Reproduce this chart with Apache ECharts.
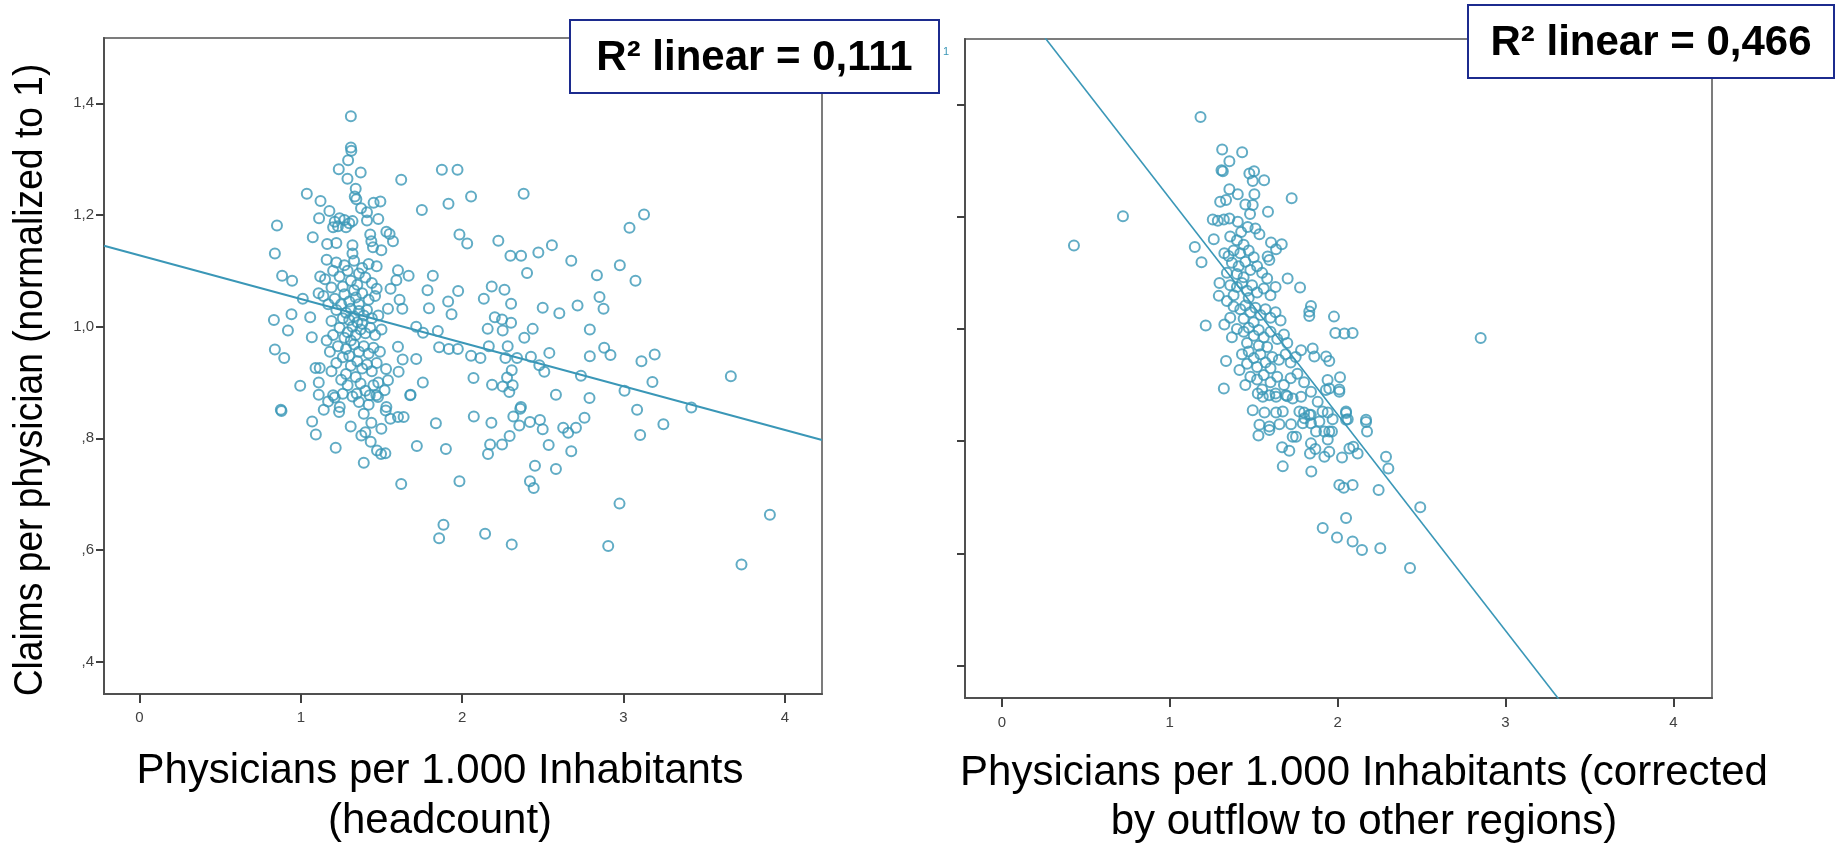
<!DOCTYPE html>
<html>
<head>
<meta charset="utf-8">
<title>Claims per physician</title>
<script src="https://cdn.jsdelivr.net/npm/echarts@6.0.0/dist/echarts.min.js"></script>
<style>
  html, body { margin: 0; padding: 0; background: #fff; }
  #chart { width: 1837px; height: 845px; }
</style>
</head>
<body>
<div id="chart"></div>
<script>
// x: physicians per 1.000 inhabitants, y: claims per physician (normalized to 1)
const headcountPoints = [
  // upper tail
  [1.31,1.377],[1.31,1.321],[1.313,1.315],[1.293,1.298],[1.235,1.282],[1.371,1.276],[1.289,1.265],[1.622,1.263],
  [1.874,1.281],[1.971,1.281],[2.381,1.238],[1.037,1.238],[1.122,1.225],[1.34,1.247],[1.334,1.233],[1.344,1.228],
  [1.373,1.212],[1.451,1.222],[1.493,1.224],[1.41,1.205],[1.177,1.207],[1.75,1.209],[1.915,1.22],[2.055,1.233],
  [1.48,1.193],[0.852,1.181],[1.113,1.194],[1.21,1.188],[1.24,1.194],[1.27,1.191],[1.3,1.185],[1.23,1.18],
  [1.28,1.178],[1.32,1.189],[1.2,1.178],[1.41,1.19],[1.43,1.165],
  [0.839,1.131],[1.074,1.16],[1.163,1.148],[1.22,1.15],[1.32,1.146],[1.32,1.131],[1.437,1.153],[1.447,1.142],
  [1.499,1.137],[1.571,1.153],[1.53,1.17],[1.55,1.166],[1.12,1.09],[1.11,1.06],
  // spread to the right
  [1.983,1.165],[2.031,1.149],[2.224,1.154],[2.299,1.127],[2.365,1.127],[2.472,1.133],[2.556,1.146],[2.402,1.096],
  [1.818,1.091],[1.668,1.091],[1.785,1.065],[1.975,1.064],[1.913,1.045],[1.934,1.022],[1.794,1.033],[2.183,1.072],
  [2.262,1.066],[2.134,1.05],[2.303,1.041],[2.499,1.034],[2.202,1.017],[2.247,1.013],[2.303,1.007],[2.158,0.996],
  [2.251,0.993],[2.437,0.996],[2.385,0.98],[1.715,1.0],[1.757,0.989],[1.849,0.992],[1.857,0.963],[1.917,0.96],
  [1.973,0.96],[2.055,0.948],[2.113,0.944],[2.165,0.965],[2.282,0.965],[2.268,0.944],[2.34,0.944],[2.426,0.946],
  [2.54,0.953],[2.478,0.931],[2.509,0.919],[2.307,0.922],[2.278,0.909],[2.185,0.896],[2.251,0.893],[2.313,0.895],
  [2.292,0.883],[2.07,0.908],[2.581,0.878],[2.364,0.856],[1.756,0.9],[1.68,0.878],[1.715,0.942],[1.631,0.941],
  [1.606,0.919],[1.602,0.964],[1.602,1.101],[1.592,1.083],[1.556,1.068],[1.612,1.048],[1.629,1.032],[1.54,1.032],
  [1.528,0.924],[1.54,0.904],[1.519,0.886],[1.53,0.856],
  // left side
  [0.996,0.894],[1.111,0.9],[1.111,0.878],[1.091,0.926],[1.117,0.926],[0.839,0.959],[0.897,0.944],[0.833,1.012],
  [0.942,1.022],[0.92,0.993],[0.884,1.091],[0.946,1.082],[1.012,1.05],[1.058,1.017],[1.068,0.981],[0.876,0.851],
  // dense core
  [1.16,1.12],[1.22,1.115],[1.27,1.11],[1.33,1.118],[1.38,1.105],[1.42,1.112],[1.47,1.108],[1.29,1.1],[1.36,1.095],[1.2,1.1],
  [1.15,1.085],[1.24,1.09],[1.31,1.082],[1.35,1.075],[1.4,1.088],[1.44,1.078],[1.26,1.072],[1.19,1.07],[1.47,1.068],[1.33,1.065],
  [1.14,1.055],[1.21,1.05],[1.27,1.058],[1.3,1.045],[1.34,1.052],[1.38,1.06],[1.42,1.048],[1.46,1.055],[1.25,1.04],[1.36,1.04],[1.17,1.04],
  [1.22,1.03],[1.28,1.025],[1.31,1.032],[1.33,1.018],[1.36,1.028],[1.39,1.02],[1.41,1.03],[1.44,1.015],[1.3,1.012],[1.26,1.015],
  [1.35,1.008],[1.38,1.005],[1.48,1.02],[1.19,1.01],
  [1.24,0.998],[1.29,0.99],[1.32,1.0],[1.34,0.985],[1.37,0.995],[1.4,0.988],[1.43,0.998],[1.46,0.985],[1.27,0.98],[1.31,0.975],
  [1.2,0.985],[1.16,0.975],[1.5,0.995],
  [1.23,0.965],[1.28,0.96],[1.33,0.968],[1.36,0.955],[1.39,0.965],[1.42,0.952],[1.45,0.962],[1.3,0.948],[1.26,0.945],[1.18,0.955],[1.49,0.955],
  [1.22,0.935],[1.31,0.93],[1.35,0.938],[1.38,0.925],[1.41,0.932],[1.44,0.92],[1.28,0.915],[1.34,0.91],[1.47,0.935],[1.19,0.92],[1.25,0.905],
  [1.29,0.895],[1.37,0.898],[1.4,0.885],[1.32,0.875],[1.45,0.895],[1.36,0.865],[1.26,0.88],[1.48,0.9],[1.42,0.86],
  // lower part
  [0.88,0.849],[1.07,0.83],[1.093,0.807],[1.169,0.866],[1.142,0.851],[1.2,0.877],[1.21,0.873],[1.241,0.856],
  [1.237,0.847],[1.216,0.783],[1.309,0.821],[1.346,0.88],[1.39,0.844],[1.437,0.828],[1.499,0.817],[1.375,0.805],
  [1.4,0.811],[1.433,0.794],[1.472,0.778],[1.497,0.772],[1.524,0.773],[1.39,0.756],[1.526,0.85],[1.555,0.835],
  [1.602,0.838],[1.637,0.838],[1.622,0.718],[1.719,0.786],[1.678,0.877],[1.837,0.827],[1.899,0.781],[1.983,0.723],
  [2.072,0.839],[2.181,0.828],[2.173,0.789],[2.16,0.772],[2.247,0.789],[2.294,0.804],[2.317,0.839],[2.36,0.853],
  [2.354,0.823],[2.42,0.829],[2.482,0.833],[2.499,0.816],[2.536,0.788],[2.451,0.751],[2.42,0.723],[2.443,0.711],
  [2.581,0.745],[1.884,0.645],[1.857,0.621],[2.142,0.629],[2.307,0.61],[1.427,0.877],[1.468,0.877],[1.478,0.874],
  // far right
  [3.127,1.201],[3.037,1.177],[2.676,1.118],[2.977,1.11],[2.835,1.092],[3.074,1.082],[2.851,1.053],[2.876,1.032],
  [2.715,1.038],[2.602,1.024],[2.791,0.995],[2.791,0.947],[2.88,0.962],[2.919,0.949],[3.111,0.938],[3.193,0.95],
  [2.736,0.912],[3.179,0.901],[3.665,0.911],[3.006,0.885],[2.789,0.872],[3.42,0.855],[3.084,0.851],[2.758,0.837],
  [2.626,0.819],[2.657,0.81],[2.705,0.819],[3.247,0.825],[3.103,0.806],[2.676,0.777],[2.975,0.683],[3.907,0.663],
  [2.905,0.607],[3.731,0.574]
];

const correctedPoints = [
  // outliers
  [1.183,1.378],[0.721,1.201],[0.429,1.149],[2.852,0.984],
  // upper part
  [1.312,1.32],[1.431,1.315],[1.355,1.299],[1.308,1.283],[1.316,1.281],[1.474,1.277],[1.502,1.281],[1.494,1.264],
  [1.562,1.265],[1.726,1.233],[1.355,1.249],[1.405,1.24],[1.504,1.24],[1.3,1.227],[1.335,1.23],[1.45,1.222],
  [1.494,1.221],[1.585,1.209],[1.478,1.205],[1.256,1.195],[1.286,1.193],[1.322,1.195],[1.355,1.197],[1.405,1.191],
  [1.464,1.182],[1.51,1.179],[1.534,1.169],[1.425,1.173],
  [1.149,1.146],[1.262,1.16],[1.189,1.119],[1.325,1.135],[1.603,1.154],[1.667,1.151],[1.633,1.142],[1.583,1.129],
  [1.593,1.123],[1.702,1.09],[1.776,1.074],[1.841,1.041],[1.831,1.031],[1.831,1.023],[1.978,1.022],[1.986,0.993],
  [2.04,0.992],[2.089,0.993],[1.214,1.006],[1.296,1.082],[1.292,1.059],[1.325,1.008],[1.322,0.894],[1.335,0.943],
  [1.415,0.927],[1.851,0.965],[1.861,0.951],[1.931,0.951],[1.95,0.943],[2.014,0.914],[2.01,0.892],[1.94,0.909],
  [1.95,0.894],[1.782,0.962],[1.494,0.855],[1.564,0.851],[1.633,0.851],[1.673,0.853],[1.881,0.87],[1.8,0.851],
  [1.84,0.847],[1.91,0.853],[2.05,0.853],[2.169,0.838],
  // dense core
  [1.36,1.165],[1.4,1.158],[1.44,1.15],[1.38,1.14],[1.42,1.135],[1.47,1.14],[1.35,1.13],[1.5,1.128],
  [1.37,1.118],[1.41,1.112],[1.45,1.12],[1.48,1.105],[1.52,1.112],[1.4,1.098],[1.44,1.092],[1.55,1.1],[1.34,1.1],[1.58,1.09],
  [1.36,1.078],[1.4,1.075],[1.43,1.082],[1.46,1.068],[1.49,1.078],[1.52,1.065],[1.56,1.072],[1.6,1.06],[1.38,1.06],
  [1.47,1.055],[1.63,1.075],[1.34,1.05],
  [1.38,1.04],[1.42,1.035],[1.45,1.042],[1.48,1.03],[1.51,1.038],[1.54,1.025],[1.57,1.035],[1.6,1.02],[1.44,1.018],
  [1.5,1.012],[1.63,1.03],[1.66,1.015],[1.36,1.02],
  [1.4,1.0],[1.44,0.995],[1.47,1.002],[1.5,0.988],[1.53,0.998],[1.56,0.985],[1.6,0.995],[1.64,0.982],[1.68,0.99],
  [1.46,0.975],[1.53,0.97],[1.58,0.968],[1.7,0.975],[1.37,0.985],
  [1.43,0.955],[1.47,0.96],[1.5,0.948],[1.54,0.955],[1.57,0.94],[1.61,0.95],[1.65,0.945],[1.69,0.955],[1.72,0.94],
  [1.52,0.932],[1.6,0.93],[1.75,0.95],[1.46,0.938],
  [1.48,0.915],[1.52,0.91],[1.56,0.918],[1.6,0.905],[1.64,0.915],[1.68,0.9],[1.72,0.912],[1.76,0.92],[1.55,0.892],
  [1.63,0.885],[1.7,0.88],[1.8,0.905],[1.45,0.9],
  [1.524,0.885],[1.554,0.879],[1.593,0.882],[1.633,0.879],[1.692,0.882],[1.732,0.876],[1.782,0.879],[1.841,0.888],
  [1.93,0.891],[2.01,0.888],
  // lower tail
  [1.534,0.829],[1.593,0.826],[1.593,0.82],[1.653,0.83],[1.528,0.81],[1.722,0.83],[1.732,0.808],[1.752,0.808],
  [1.772,0.853],[1.802,0.841],[1.831,0.847],[1.792,0.832],[1.841,0.832],[1.891,0.835],[1.941,0.851],[1.97,0.839],
  [2.05,0.85],[2.05,0.838],[2.06,0.839],[2.169,0.834],[2.175,0.817],[1.871,0.817],[1.921,0.817],[1.95,0.817],
  [1.966,0.817],[1.941,0.803],[1.669,0.789],[1.712,0.783],[1.841,0.796],[1.867,0.786],[1.835,0.778],[1.921,0.772],
  [1.95,0.781],[2.026,0.771],[2.07,0.787],[2.119,0.778],[2.093,0.79],[2.288,0.772],[2.302,0.751],[1.673,0.755],
  [1.843,0.746],[2.01,0.722],[2.036,0.717],[2.089,0.722],[2.244,0.713],[2.492,0.682],[2.05,0.663],[1.911,0.645],
  [1.996,0.628],[2.089,0.621],[2.145,0.606],[2.254,0.609],[2.431,0.574]
];

// fitted lines (end points, clipped by the plot area)
const fitHeadcount = [[-0.22, 1.145], [4.23, 0.797]];
const fitCorrected = [[0.2, 1.541], [3.4, 0.308]];

const rSquared = ['0,111', '0,466'];
const xTickValues = [0, 1, 2, 3, 4];
const yTickValues = [0.4, 0.6, 0.8, 1.0, 1.2, 1.4];
const yTickLabels = [',4', ',6', ',8', '1,0', '1,2', '1,4'];

const xRange = [-0.22, 4.23];
const yRange = [0.342, 1.517];

const teal = '#3a97b7';
const sans = "'Liberation Sans', Arial, sans-serif";

const chart = echarts.init(document.getElementById('chart'));

function makeX(idx, margin) {
  return {
    type: 'value', gridIndex: idx, min: xRange[0], max: xRange[1],
    axisLine: { show: true, onZero: false, lineStyle: { color: '#505050', width: 2 } },
    axisTick: { show: true, length: 9, customValues: xTickValues, lineStyle: { color: '#404040', width: 2 } },
    axisLabel: { customValues: xTickValues, margin: margin, color: '#404040', fontSize: 15, fontFamily: sans },
    splitLine: { show: false }
  };
}

function makeY(idx, showLabels) {
  return {
    type: 'value', gridIndex: idx, min: yRange[0], max: yRange[1],
    axisLine: { show: true, onZero: false, lineStyle: { color: '#505050', width: 2 } },
    axisTick: { show: true, length: 8, customValues: yTickValues, lineStyle: { color: '#404040', width: 2 } },
    axisLabel: {
      show: showLabels, customValues: yTickValues, margin: 10, color: '#404040', fontSize: 15, fontFamily: sans,
      formatter: v => yTickLabels[yTickValues.findIndex(t => Math.abs(t - v) < 1e-6)]
    },
    splitLine: { show: false }
  };
}

function scatter(idx, data) {
  return {
    type: 'scatter', xAxisIndex: idx, yAxisIndex: idx, data: data,
    symbol: 'circle', symbolSize: 10,
    itemStyle: { color: 'rgba(0,0,0,0)', borderColor: teal, borderWidth: 2 },
    silent: true
  };
}

function fitLine(idx, data, width) {
  return {
    type: 'line', xAxisIndex: idx, yAxisIndex: idx, data: data,
    showSymbol: false, clip: true, silent: true,
    lineStyle: { color: teal, width: width }
  };
}

function rBox(x, y, w, h, value) {
  return {
    type: 'group', z: 100,
    children: [
      { type: 'rect', shape: { x: x, y: y, width: w, height: h },
        style: { fill: '#fff', stroke: '#1c2b8e', lineWidth: 2 } },
      { type: 'text', x: x + w / 2, y: y + h / 2 + 2,
        style: { text: 'R\u00b2 linear = ' + value, fill: '#000', font: 'bold 42px ' + sans,
                 textAlign: 'center', textVerticalAlign: 'middle' } }
    ]
  };
}

function title(x, y, text) {
  return { type: 'text', x: x, y: y,
    style: { text: text, fill: '#000', font: '42px ' + sans, textAlign: 'center', textVerticalAlign: 'middle' } };
}

const option = {
  backgroundColor: '#fff',
  animation: false,
  grid: [
    { left: 104, top: 38, width: 718, height: 656, show: true, borderColor: '#7c7c7c', borderWidth: 2, outerBoundsMode: 'none' },
    { left: 965, top: 39, width: 747, height: 659, show: true, borderColor: '#7c7c7c', borderWidth: 2, outerBoundsMode: 'none' }
  ],
  xAxis: [makeX(0, 16), makeX(1, 17)],
  yAxis: [makeY(0, true), makeY(1, false)],
  series: [
    scatter(0, headcountPoints),
    fitLine(0, fitHeadcount, 2),
    scatter(1, correctedPoints),
    fitLine(1, fitCorrected, 1.6)
  ],
  graphic: [
    { type: 'text', x: 31, y: 380, rotation: Math.PI / 2, scaleX: 0.93,
      style: { text: 'Claims per physician (normalized to 1)', fill: '#000', font: '40px ' + sans,
               textAlign: 'center', textVerticalAlign: 'middle' } },
    title(440, 771, 'Physicians per 1.000 Inhabitants'),
    title(440, 821, '(headcount)'),
    title(1364, 773, 'Physicians per 1.000 Inhabitants (corrected'),
    title(1364, 822, 'by outflow to other regions)'),
    rBox(570, 20, 369, 73, rSquared[0]),
    rBox(1468, 5, 366, 73, rSquared[1]),
    { type: 'text', x: 946, y: 52, z: 100,
      style: { text: '1', fill: teal, font: '11px ' + sans, textAlign: 'center', textVerticalAlign: 'middle' } }
  ]
};

chart.setOption(option);
window.addEventListener('resize', () => chart.resize());
</script>
</body>
</html>
